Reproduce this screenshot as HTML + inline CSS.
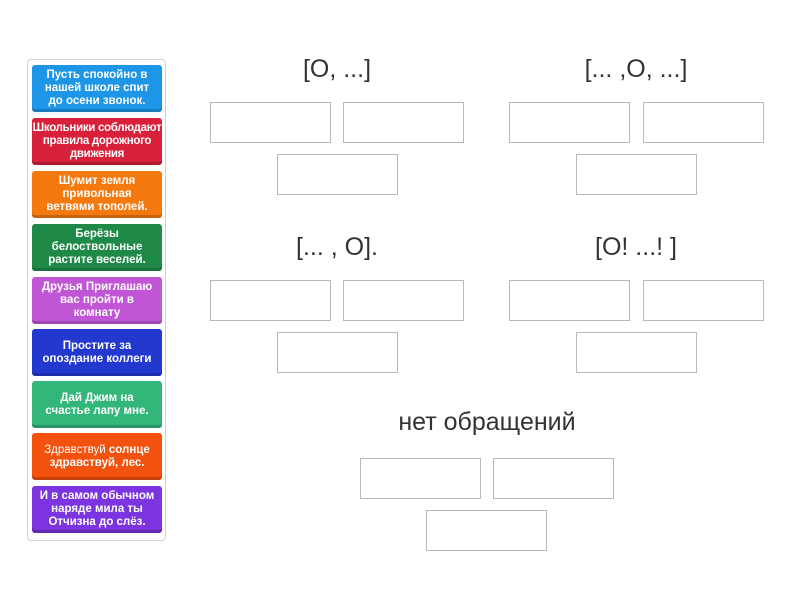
<!DOCTYPE html>
<html><head><meta charset="utf-8"><style>
body{margin:0;width:800px;height:600px;background:#fff;position:relative;font-family:"Liberation Sans",sans-serif;overflow:hidden}
.panel{position:absolute;left:27px;top:59px;width:139px;height:482px;border:1px solid #d0d0d0;border-radius:4px;box-sizing:border-box;background:#fff}
.t{position:absolute;left:32px;width:130px;height:47px;padding:0 5px;box-sizing:border-box;border-radius:3px;color:#fff;font-weight:bold;font-size:11.5px;line-height:13px;text-align:center;display:flex;align-items:center;justify-content:center;box-shadow:inset 0 -3px 0 rgba(0,0,0,.18)}
.b{position:absolute;width:119px;height:39px;border:1px solid #b8b8b8;background:#fff}
.h{position:absolute;font-size:25px;color:#333;text-align:center;width:300px;transform:translateX(-50%)}
</style></head><body>
<div class="panel"></div>
<div class="t" style="top:65px;background:#1e96e8">Пусть спокойно в нашей школе спит до осени звонок.</div>
<div class="t" style="top:118px;background:#d9203a;padding:0;letter-spacing:-0.3px">Школьники соблюдают правила дорожного движения</div>
<div class="t" style="top:171px;background:#f47a10">Шумит земля привольная ветвями тополей.</div>
<div class="t" style="top:224px;background:#1f8a48">Берёзы белоствольные растите веселей.</div>
<div class="t" style="top:277px;background:#c056d6">Друзья Приглашаю вас пройти в комнату</div>
<div class="t" style="top:329px;background:#2338cf">Простите за опоздание коллеги</div>
<div class="t" style="top:381px;background:#33b67a">Дай Джим на счастье лапу мне.</div>
<div class="t" style="top:433px;background:#f2510e"><span><span style="font-weight:normal">Здравствуй</span> солнце здравствуй, лес.</span></div>
<div class="t" style="top:486px;background:#7b34df">И в самом обычном наряде мила ты Отчизна до слёз.</div>

<div class="h" style="left:337px;top:55px">[O, ...]</div>
<div class="h" style="left:636px;top:55px">[... ,O, ...]</div>
<div class="h" style="left:337px;top:233px">[... , O].</div>
<div class="h" style="left:636px;top:233px">[O! ...! ]</div>
<div class="h" style="left:487px;top:408px">нет обращений</div>

<div class="b" style="left:210px;top:102px"></div><div class="b" style="left:343px;top:102px"></div><div class="b" style="left:277px;top:154px"></div>
<div class="b" style="left:509px;top:102px"></div><div class="b" style="left:643px;top:102px"></div><div class="b" style="left:576px;top:154px"></div>
<div class="b" style="left:210px;top:280px"></div><div class="b" style="left:343px;top:280px"></div><div class="b" style="left:277px;top:332px"></div>
<div class="b" style="left:509px;top:280px"></div><div class="b" style="left:643px;top:280px"></div><div class="b" style="left:576px;top:332px"></div>
<div class="b" style="left:360px;top:458px"></div><div class="b" style="left:493px;top:458px"></div><div class="b" style="left:426px;top:510px"></div>
</body></html>
